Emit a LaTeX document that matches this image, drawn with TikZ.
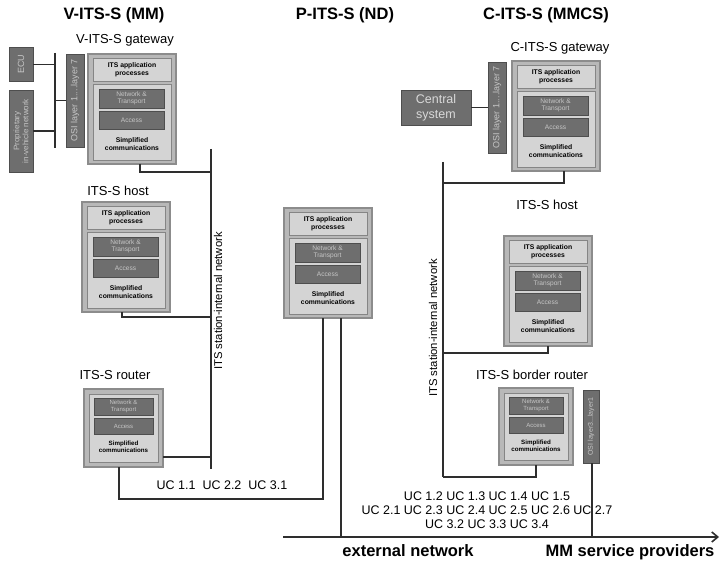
\documentclass[tikz,border=0pt]{standalone}
\usepackage{fontspec}
\setmainfont{Liberation Sans}
\usepackage{tikz}
\usetikzlibrary{calc}
\usetikzlibrary{arrows.meta}
\definecolor{boxgray}{HTML}{B8B8B8}
\definecolor{framegray}{HTML}{8C8C8C}
\definecolor{layergray}{HTML}{D4D4D4}
\definecolor{innerline}{HTML}{858585}
\definecolor{darkgray}{HTML}{6E6E6E}
\definecolor{darkline}{HTML}{4E4E4E}
\definecolor{palegray}{HTML}{C6C6C6}
\definecolor{wirecol}{HTML}{2E2E2E}
\tikzset{
every picture/.style={line width=0.8pt, >={Straight Barb[length=6pt,width=10pt]}},
%%%%%%%%%%  Node styles
station/.style={draw=framegray, fill=boxgray, line width=2.4pt,
                inner sep=0, outer sep=0},
layer/.style={draw=innerline, fill=layergray, line width=0.8pt,
              inner sep=0, outer sep=0},
darkbox/.style={draw=darkline, fill=darkgray, line width=0.8pt,
                text=palegray, inner sep=0, outer sep=0, align=center},
%%%% text styles
tinytext/.style={font=\fontsize{6.6}{7.4}\selectfont, align=center},
tinybold/.style={font=\bfseries\fontsize{6.8}{7.9}\selectfont, align=center},
ositext/.style={font=\fontsize{9}{10}\selectfont},
title/.style={font=\bfseries\fontsize{16.5}{18}\selectfont},
boxlabel/.style={font=\fontsize{13}{15}\selectfont},
uclabel/.style={font=\fontsize{12.5}{14}\selectfont, align=center},
buslabel/.style={font=\fontsize{11.3}{13}\selectfont, rotate=90},
%%%% lines
wire/.style={draw=wirecol, line width=1.6pt}
}
%%%%%%% full station stack, #1 name, (#2,#3) top left corner
\newcommand{\itsstack}[3]{%
  \node[station, minimum width=88pt, minimum height=110pt, anchor=north west] (#1) at (#2,#3) {};
  \node[layer, tinybold, minimum width=78pt, minimum height=23pt] (#1-app)
       at ($(#1.north west)+(44,15.5)$) {ITS application\\processes};
  \node[layer, minimum width=78pt, minimum height=76pt] (#1-sc) at ($(#1.north west)+(44,68)$) {};
  \node[darkbox, tinytext, minimum width=65pt, minimum height=19pt] (#1-nt)
       at ($(#1.north west)+(43.5,44.5)$) {Network \&\\Transport};
  \node[darkbox, tinytext, minimum width=65pt, minimum height=18pt] (#1-acc)
       at ($(#1.north west)+(43.5,66)$) {Access};
  \node[tinybold] (#1-txt) at ($(#1.north west)+(44,90)$) {Simplified\\communications};
}
%%%%%%% router stack, #1 name, (#2,#3) top left corner, #4 width, #5 height
\newcommand{\itsrouter}[5]{%
  \node[station, minimum width=#4pt, minimum height=#5pt, anchor=north west] (#1) at (#2,#3) {};
  \node[layer, minimum width=#4pt-10pt, minimum height=#5pt-10pt] (#1-sc) at (#1.center) {};
  \node[darkbox, tinytext, font=\fontsize{6}{6.8}\selectfont, minimum width=#4pt-20pt, minimum height=17pt] (#1-nt)
       at ($(#1.north)+(0,17.5)$) {Network \&\\Transport};
  \node[darkbox, tinytext, font=\fontsize{6}{6.8}\selectfont, minimum width=#4pt-20pt, minimum height=16pt] (#1-acc)
       at ($(#1.north)+(0,37)$) {Access};
  \node[tinybold, font=\bfseries\fontsize{6.2}{7.4}\selectfont] (#1-txt)
       at ($(#1.north)+(0,58)$) {Simplified\\communications};
}

\begin{document}
\begin{tikzpicture}[x=1pt, y=-1pt]
\useasboundingbox[fill=white] (0,0) rectangle (720,564);

%%%%%%% titles
\node[title] (vtitle) at (114,15) {V-ITS-S (MM)};
\node[title] (ptitle) at (345,15) {P-ITS-S (ND)};
\node[title] (ctitle) at (546,15) {C-ITS-S (MMCS)};

%%%%%%% V-ITS-S
\node[boxlabel] (vgwlab) at (125,40) {V-ITS-S gateway};
\node[boxlabel] (vhostlab) at (118,191) {ITS-S host};
\node[boxlabel] (vrtlab) at (115,375) {ITS-S router};
\node[darkbox, rotate=90, minimum width=34pt, minimum height=24pt,
      font=\fontsize{9}{10}\selectfont] (ecu) at (21,64.5) {ECU};
\node[darkbox, rotate=90, minimum width=82pt, minimum height=24pt,
      font=\fontsize{8}{9}\selectfont] (prop) at (21,131) {Proprietary\\in-vehicle network};
\node[darkbox, rotate=90, minimum width=93pt, minimum height=18pt, ositext] (vosi) at (75,100.5) {OSI layer 1....layer 7};
\itsstack{vgw}{88}{54}
\itsstack{vhost}{82}{202}
\itsrouter{vrt}{84}{389}{79}{78}

%%%%%%% P-ITS-S
\itsstack{pits}{284}{208}

%%%%%%% C-ITS-S
\node[boxlabel] (cgwlab) at (560,48) {C-ITS-S gateway};
\node[boxlabel] (chostlab) at (547,205) {ITS-S host};
\node[boxlabel] (crtlab) at (532,375) {ITS-S border router};
\node[darkbox, minimum width=70pt, minimum height=35pt, text=black!15,
      font=\fontsize{12.5}{15}\selectfont] (csys) at (436,107.5) {Central\\system};
\node[darkbox, rotate=90, minimum width=91pt, minimum height=18pt, ositext] (cosi) at (497,107.5) {OSI layer 1....layer 7};
\node[darkbox, rotate=90, minimum width=73pt, minimum height=16pt,
      font=\fontsize{7}{8}\selectfont] (bosi) at (591,426.5) {OSI layer3...layer1};
\itsstack{cgw}{512}{61}
\itsstack{chost}{504}{236}
\itsrouter{crt}{499}{388}{74}{77}

%%%%%%% networks
\coordinate (vlanT) at (55,53);
\coordinate (vlanB) at (55,148);
\coordinate (vbusT) at (211,149);
\coordinate (vbus1) at (211,172);
\coordinate (vbus2) at (211,317);
\coordinate (vbus3) at (211,457);
\coordinate (vbusB) at (211,469);
\coordinate (ploop) at (323,499);
\coordinate (cbusT) at (443,162);
\coordinate (cbus1) at (443,183);
\coordinate (cbus2) at (443,353);
\coordinate (cbusB) at (443,477);
\coordinate (extL) at (283,537);
\coordinate (extR) at (719,537);
\coordinate (pext) at (341,537);
\coordinate (bext) at (592,537);

\draw[wire] (vlanT) -- (vlanB);
\draw[wire] (ecu.south) -- (ecu.south -| vlanT);
\draw[wire] (prop.south) -- (prop.south -| vlanT);
\draw[wire] (vosi.north) -- (vosi.north -| vlanT);

\draw[wire] (vbusT) -- (vbusB);
\draw[wire] ([xshift=8pt]vgw.south) |- (vbus1);
\draw[wire] ([xshift=-4pt]vhost.south) |- (vbus2);
\draw[wire] (vbus3 -| vrt.east) -- (vbus3);
\draw[wire] ([xshift=-4.5pt]vrt.south) |- (ploop) -- (ploop |- pits.south);
\draw[wire] (pext |- pits.south) -- (pext);

\draw[wire] (cbusT) -- (cbusB);
\draw[wire] (csys.east) -- (cosi.north);
\draw[wire] ([xshift=8pt]cgw.south) |- (cbus1);
\draw[wire] (chost.south) |- (cbus2);
\draw[wire] (crt.south) |- (cbusB);
\draw[wire] (bext |- bosi.west) -- (bext);

\draw[wire, ->] (extL) -- (extR);

%%%%%%% network labels
\node[buslabel] (vbuslab) at (218,301) {ITS station-internal network};
\node[buslabel] (cbuslab) at (433,328) {ITS station-internal network};
\node[uclabel] (vuc) at (222,485) {UC 1.1 \ UC 2.2 \ UC 3.1};
\node[uclabel] (cuc) at (487,510) {UC 1.2 UC 1.3 UC 1.4 UC 1.5\\
      UC 2.1 UC 2.3 UC 2.4 UC 2.5 UC 2.6 UC 2.7\\UC 3.2 UC 3.3 UC 3.4};
\node[title] (extlab) at (408,551) {external network};
\node[title] (mmlab) at (630,552) {MM service providers};
\end{tikzpicture}
\end{document}
